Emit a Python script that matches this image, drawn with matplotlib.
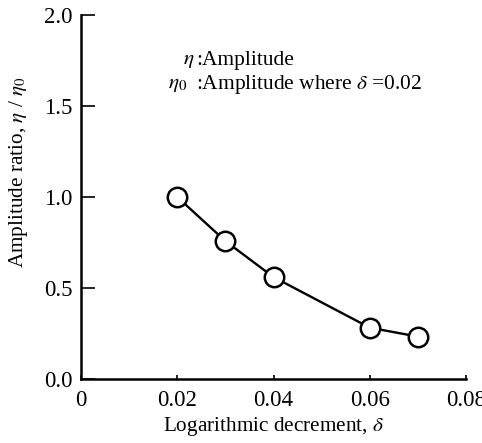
import matplotlib
matplotlib.use('Agg')
import matplotlib.pyplot as plt

# data
delta = [0.02, 0.03, 0.04, 0.06, 0.07]
ratio = [1.0, 0.758, 0.56, 0.282, 0.233]
xticks = [0, 0.02, 0.04, 0.06, 0.08]
xticklabels = ['0', '0.02', '0.04', '0.06', '0.08']
yticks = [0.0, 0.5, 1.0, 1.5, 2.0]
yticklabels = ['0.0', '0.5', '1.0', '1.5', '2.0']

plt.rcParams['font.family'] = ['Liberation Serif', 'DejaVu Serif']
plt.rcParams['mathtext.fontset'] = 'stix'

fig = plt.figure(figsize=(4.82, 4.43), dpi=100)
ax = fig.add_axes([81 / 482, 1 - 379 / 443, (466 - 81) / 482, (379 - 15) / 443])

ax.plot(delta, ratio, color='black', lw=1.7, marker='o', ms=14,
        mfc='white', mec='black', mew=1.8, zorder=3, clip_on=False)

ax.set_xlim(0, 0.08)
ax.set_ylim(0, 2.0)
ax.set_xticks(xticks)
ax.set_xticklabels(xticklabels)
ax.set_yticks(yticks)
ax.set_yticklabels(yticklabels)
ax.tick_params(direction='in', length=10, width=1.2, labelsize=16.5, pad=6)
ax.tick_params(axis='x', length=3, pad=8)

for s in ['top', 'right']:
    ax.spines[s].set_visible(False)
for s in ['left', 'bottom']:
    ax.spines[s].set_linewidth(1.8)

# label positions in axes fractions (pixel positions measured on the reference)
ax.set_xlabel(r'Logarithmic decrement, $\delta$', fontsize=15.3)
ax.xaxis.set_label_coords(0.5, -(415 - 379) / 364)
ax.set_ylabel(r'Amplitude ratio, $\eta$ / $\eta_0$', fontsize=15.3)
ax.yaxis.set_label_coords(-(81 - 30) / 385, (379 - 172) / 364)

fig.text(183 / 482, 1 - 60 / 443, r'$\eta$', fontsize=15.4, va='center')
fig.text(196 / 482, 1 - 60 / 443, ':Amplitude', fontsize=15.4, va='center')
fig.text(168 / 482, 1 - 84 / 443, r'$\eta_0$', fontsize=15.4, va='center')
fig.text(196 / 482, 1 - 84 / 443, r':Amplitude where $\delta$ =0.02', fontsize=15.4, va='center')

fig.savefig('out.png', dpi=100)
